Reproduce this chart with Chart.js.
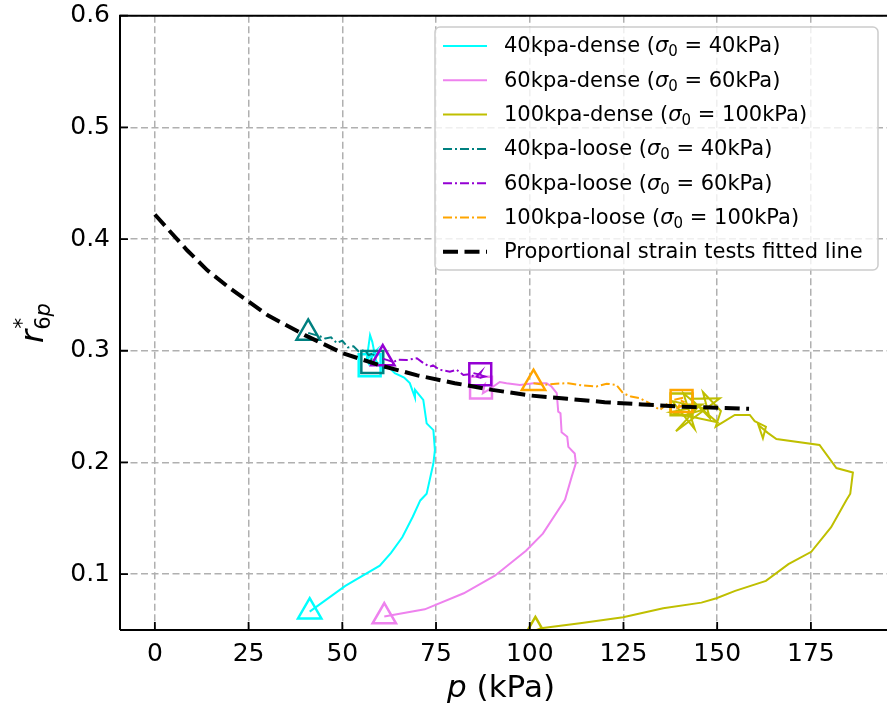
<!DOCTYPE html>
<html>
<head>
<meta charset="utf-8">
<script src="https://cdn.jsdelivr.net/npm/chart.js@4.4.0/dist/chart.umd.min.js"></script>
<style>
  html, body { margin: 0; padding: 0; background: #fff; }
  #wrap { width: 887px; height: 711px; }
</style>
</head>
<body>
<div id="wrap"><canvas id="chart" width="887" height="711"></canvas></div>
<script>
// tick values
const xTicks = [0, 25, 50, 75, 100, 125, 150, 175];
const yTicks = [0.1, 0.2, 0.3, 0.4, 0.5, 0.6];

// 40kpa dense
const dense40P = [41.3, 50.8, 60, 63, 66, 68.8, 70.8, 72.5, 74.3, 74.7, 74.3, 72.5, 71.6, 69.4, 69.4, 68, 66.5, 64, 62.5, 60.5, 59, 58, 57.4, 56.5, 59, 57, 57.3];
const dense40R = [0.0664, 0.0895, 0.1076, 0.119, 0.133, 0.1514, 0.166, 0.172, 0.1993, 0.211, 0.229, 0.235, 0.256, 0.265, 0.258, 0.271, 0.276, 0.28, 0.285, 0.284, 0.291, 0.308, 0.314, 0.292, 0.30, 0.289, 0.287];
// 60kpa dense
const dense60P = [61.2, 72, 82.4, 90.7, 99, 103.5, 109.4, 111.2, 112.3, 112, 110.3, 110, 108.5, 108.2, 107.6, 107.2, 105.8, 104.5, 101, 97.4, 93.8, 92, 89, 87.5, 88, 87];
const dense60R = [0.062, 0.0685, 0.0829, 0.0986, 0.121, 0.1363, 0.1666, 0.1873, 0.1993, 0.208, 0.214, 0.223, 0.227, 0.244, 0.2455, 0.262, 0.268, 0.271, 0.271, 0.2694, 0.271, 0.272, 0.265, 0.262, 0.27, 0.267];
// 100kpa dense
const dense100P = [101.5, 103, 113.4, 124.9, 135.6, 145.8, 149.8, 154.8, 163, 169, 175.1, 180.4, 184.4, 185.5, 186.2, 181.8, 177.3, 165.8, 163.5, 161, 162.2, 163, 160, 158.7, 154.7, 149.6, 151, 146.2, 148, 143, 150.7, 139, 145, 137.5, 150, 141, 144, 138, 147, 142, 146, 140.5];
const dense100R = [0.0496, 0.0516, 0.056, 0.0614, 0.0695, 0.0745, 0.0784, 0.085, 0.094, 0.109, 0.12, 0.142, 0.166, 0.172, 0.191, 0.195, 0.2157, 0.221, 0.2265, 0.2335, 0.2217, 0.232, 0.237, 0.2425, 0.2425, 0.232, 0.246, 0.263, 0.24, 0.257, 0.2575, 0.228, 0.25, 0.245, 0.236, 0.262, 0.23, 0.255, 0.248, 0.243, 0.252, 0.252];
// 40kpa loose
const loose40P = [40.9, 44, 45.5, 47, 48.5, 50, 51.5, 53, 54.5, 56, 57, 58.5, 57.5, 58];
const loose40R = [0.316, 0.313, 0.311, 0.312, 0.307, 0.309, 0.303, 0.304, 0.299, 0.301, 0.296, 0.298, 0.29, 0.29];
// 60kpa loose
const loose60P = [60.8, 63.6, 65, 67.2, 69.9, 71.6, 73.4, 74.2, 76, 78.7, 80.5, 82.3, 84, 85.5, 87, 86, 88, 85, 87.5, 86.8];
const loose60R = [0.293, 0.290, 0.292, 0.2917, 0.2933, 0.289, 0.2857, 0.287, 0.283, 0.2813, 0.283, 0.2783, 0.279, 0.276, 0.281, 0.275, 0.277, 0.28, 0.278, 0.279];
// 100kpa loose
const loose100P = [101, 104, 107, 110.3, 114, 117.8, 120.5, 123.1, 124.9, 127, 129.4, 132, 134.7, 136.5, 138.5, 141, 139.5, 142, 140.5];
const loose100R = [0.271, 0.2695, 0.2705, 0.271, 0.269, 0.268, 0.2705, 0.2694, 0.262, 0.259, 0.2575, 0.253, 0.247, 0.252, 0.256, 0.258, 0.249, 0.253, 0.255];
// fitted line
const fitP = [0, 4, 8.6, 14, 20, 30, 40, 50, 60, 70, 80, 90, 100, 110, 120, 130, 140, 150, 158.5];
const fitR = [0.422, 0.407, 0.390, 0.372, 0.356, 0.332, 0.314, 0.298, 0.287, 0.278, 0.271, 0.265, 0.260, 0.257, 0.254, 0.252, 0.250, 0.249, 0.248];

const FONT = "'DejaVu Sans', sans-serif";
const dashDot = [9, 3, 2, 3];

const series = [
  { name: '40kpa-dense', s: '40', p: dense40P, r: dense40R, color: '#00ffff', dash: [], order: 6 },
  { name: '60kpa-dense', s: '60', p: dense60P, r: dense60R, color: '#ee82ee', dash: [], order: 5 },
  { name: '100kpa-dense', s: '100', p: dense100P, r: dense100R, color: '#bfbf00', dash: [], order: 4 },
  { name: '40kpa-loose', s: '40', p: loose40P, r: loose40R, color: '#008080', dash: dashDot, order: 3 },
  { name: '60kpa-loose', s: '60', p: loose60P, r: loose60R, color: '#9400d3', dash: dashDot, order: 2 },
  { name: '100kpa-loose', s: '100', p: loose100P, r: loose100R, color: '#ffa500', dash: dashDot, order: 1 }
];

const pts = (xs, ys) => xs.map((x, i) => ({ x: x, y: ys[i] }));

const datasets = series.map(s => ({
  label: s.name,
  data: pts(s.p, s.r),
  showLine: true,
  borderColor: s.color,
  borderWidth: 2,
  borderDash: s.dash,
  order: s.order,
  pointStyle: c => c.dataIndex === 0 ? 'triangle' : 'rect',
  pointRadius: c => c.dataIndex === 0 ? 13.5 : (c.dataIndex === s.p.length - 1 ? 15.5 : 0),
  pointBorderColor: s.color,
  pointBackgroundColor: 'rgba(0,0,0,0)',
  pointBorderWidth: 2.5
}));

datasets.push({
  label: 'Proportional strain tests fitted line',
  data: pts(fitP, fitR),
  showLine: true,
  borderColor: '#000',
  borderWidth: 4,
  borderDash: [15, 6.5],
  pointRadius: 0,
  order: 0
});

const noPad = s => { s.paddingTop = 0; s.paddingBottom = 0; s.paddingLeft = 0; s.paddingRight = 0; };

// spines, inward ticks, legend, axis titles
const decor = {
  id: 'decor',
  afterDatasetsDraw(chart) {
    const ctx = chart.ctx;
    const a = chart.chartArea;
    const xs = chart.scales.x, ys = chart.scales.y;
    ctx.save();
    ctx.strokeStyle = '#000';
    ctx.lineWidth = 2;
    ctx.beginPath();
    ctx.moveTo(a.left, a.bottom); ctx.lineTo(a.right, a.bottom);
    ctx.moveTo(a.left, a.bottom); ctx.lineTo(a.left, a.top);
    ctx.moveTo(a.left - 1, a.top); ctx.lineTo(a.right, a.top);
    ctx.stroke();
    ctx.lineWidth = 1.8;
    ctx.beginPath();
    yTicks.forEach(v => { const y = ys.getPixelForValue(v); ctx.moveTo(a.left, y); ctx.lineTo(a.left + 8, y); });
    xTicks.forEach(v => { const x = xs.getPixelForValue(v); ctx.moveTo(x, a.bottom); ctx.lineTo(x, a.bottom - 8); });
    ctx.stroke();

    // legend
    const bx = 435, by = 27, bw = 443, bh = 243;
    ctx.beginPath();
    ctx.roundRect(bx, by, bw, bh, 5);
    ctx.fillStyle = 'rgba(255,255,255,0.8)';
    ctx.fill();
    ctx.strokeStyle = '#cccccc';
    ctx.lineWidth = 1.5;
    ctx.stroke();

    const rows = series.map(s => ({ color: s.color, dash: s.dash, width: 2, name: s.name, s: s.s }));
    rows.push({ color: '#000', dash: [15, 6.5], width: 4, name: 'Proportional strain tests fitted line' });
    rows.forEach((row, i) => {
      const base = 52.3 + i * 34.3;
      const ly = base - 6.3;
      ctx.beginPath();
      ctx.setLineDash(row.dash);
      ctx.strokeStyle = row.color;
      ctx.lineWidth = row.width;
      ctx.moveTo(443, ly); ctx.lineTo(487, ly);
      ctx.stroke();
      ctx.setLineDash([]);
      ctx.fillStyle = '#000';
      ctx.textBaseline = 'alphabetic';
      ctx.textAlign = 'left';
      let x = 504;
      const put = (t, font, dy) => { ctx.font = font; ctx.fillText(t, x, base + (dy || 0)); x += ctx.measureText(t).width; };
      if (row.s) {
        put(row.name + ' (', '21px ' + FONT);
        put('\u03c3', 'italic 21px ' + FONT);
        put('0', '15px ' + FONT, 4);
        put(' = ' + row.s + 'kPa)', '21px ' + FONT);
      } else {
        put(row.name, '21px ' + FONT);
      }
    });
    ctx.restore();
  },
  afterDraw(chart) {
    const ctx = chart.ctx;
    ctx.save();
    ctx.fillStyle = '#000';
    ctx.textBaseline = 'alphabetic';
    ctx.textAlign = 'left';
    // x title
    ctx.font = 'italic 31px ' + FONT;
    const w1 = ctx.measureText('p').width;
    ctx.font = '31px ' + FONT;
    const w2 = ctx.measureText(' (kPa)').width;
    let x = 501 - (w1 + w2) / 2;
    ctx.font = 'italic 31px ' + FONT;
    ctx.fillText('p', x, 696.5);
    ctx.font = '31px ' + FONT;
    ctx.fillText(' (kPa)', x + w1, 696.5);
    // y title
    ctx.translate(43, 323);
    ctx.rotate(-Math.PI / 2);
    ctx.font = 'italic 32px ' + FONT;
    const wr = ctx.measureText('r').width;
    ctx.font = '21px ' + FONT;
    const w6 = ctx.measureText('6').width;
    ctx.font = 'italic 21px ' + FONT;
    const wp = ctx.measureText('p').width;
    x = -(wr + w6 + wp) / 2;
    ctx.font = 'italic 32px ' + FONT;
    ctx.fillText('r', x, 0);
    ctx.font = '22px ' + FONT;
    ctx.fillText('*', x + wr + 1, -14);
    ctx.font = '21px ' + FONT;
    ctx.fillText('6', x + wr, 7);
    ctx.font = 'italic 21px ' + FONT;
    ctx.fillText('p', x + wr + w6, 7);
    ctx.restore();
  }
};

new Chart(document.getElementById('chart'), {
  type: 'scatter',
  data: { datasets: datasets },
  options: {
    responsive: false,
    devicePixelRatio: 1,
    animation: false,
    events: [],
    layout: { autoPadding: false, padding: { top: 15.7, left: 0, right: 0, bottom: 0 } },
    plugins: { legend: { display: false }, tooltip: { enabled: false } },
    scales: {
      x: {
        type: 'linear',
        position: 'bottom',
        min: -9.3,
        max: 195.3,
        afterBuildTicks: s => { s.ticks = xTicks.map(v => ({ value: v })); },
        afterFit: s => { s.height = 81; noPad(s); },
        ticks: { font: { family: FONT, size: 25 }, color: '#000', padding: 9, maxRotation: 0, callback: v => String(v) },
        grid: { color: '#b0b0b0', lineWidth: 1.5, drawTicks: false },
        border: { display: false, dash: [7, 3.5] }
      },
      y: {
        type: 'linear',
        position: 'left',
        min: 0.05,
        max: 0.6,
        afterBuildTicks: s => { s.ticks = yTicks.map(v => ({ value: v })); },
        afterFit: s => { s.width = 120; noPad(s); },
        ticks: { font: { family: FONT, size: 25 }, color: '#000', padding: 10, callback: v => v.toFixed(1) },
        grid: { color: '#b0b0b0', lineWidth: 1.5, drawTicks: false },
        border: { display: false, dash: [7, 3.5] }
      }
    }
  },
  plugins: [decor]
});
</script>
</body>
</html>
